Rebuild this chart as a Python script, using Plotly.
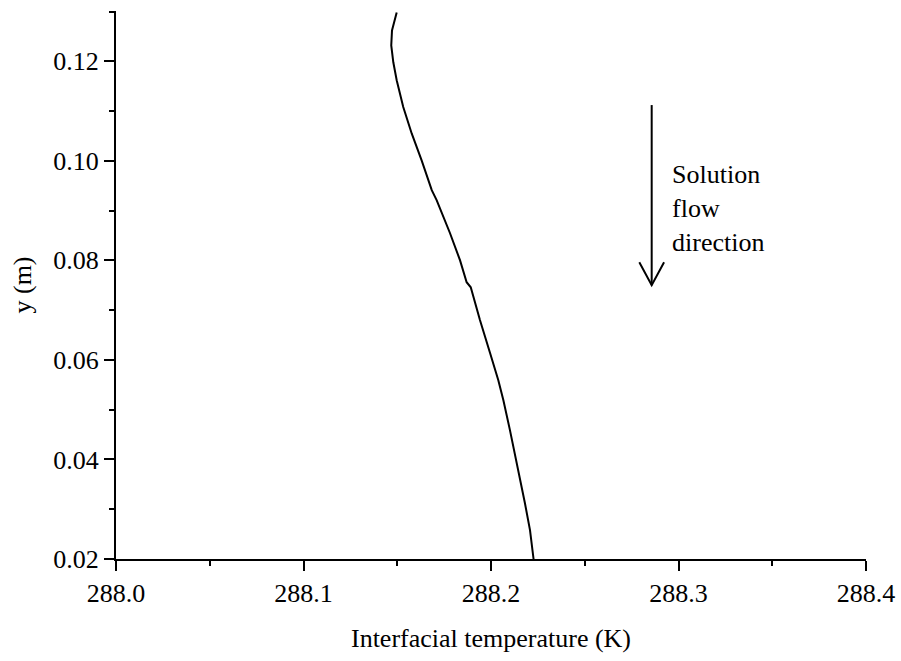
import plotly.graph_objects as go

# Interfacial temperature profile along the falling-film height
height_m = [0.0200, 0.0258, 0.0312, 0.0379, 0.0459, 0.0519, 0.0559, 0.0614, 0.0680,
            0.0746, 0.0756, 0.0800, 0.0855, 0.0921, 0.0941, 0.1001, 0.1055, 0.1108,
            0.1162, 0.1198, 0.1232, 0.1262, 0.1298]
interface_temp_K = [288.2227, 288.2208, 288.2181, 288.2146, 288.2101, 288.2066, 288.2039,
                    288.1995, 288.1941, 288.1892, 288.1870, 288.1835, 288.1781, 288.1710,
                    288.1684, 288.1630, 288.1577, 288.1532, 288.1497, 288.1479, 288.1468,
                    288.1472, 288.1497]

# Flow-direction arrow (data coordinates)
arrow_x = 288.2857
arrow_y_start = 0.1112
arrow_y_tip = 0.0750
head_dx = 0.0066
head_dy = 0.0046
note_lines = ["Solution", "flow", "direction"]

FONT = "Liberation Serif"

fig = go.Figure()
fig.add_trace(go.Scatter(
    x=interface_temp_K, y=height_m, mode="lines",
    line=dict(color="black", width=2), showlegend=False, hoverinfo="skip"))

# shaft and open V head of the arrow
fig.add_shape(type="line", xref="x", yref="y",
              x0=arrow_x, x1=arrow_x, y0=arrow_y_start, y1=arrow_y_tip,
              line=dict(color="black", width=2))
fig.add_shape(type="path", xref="x", yref="y",
              path=(f"M {arrow_x - head_dx},{arrow_y_tip + head_dy} "
                    f"L {arrow_x},{arrow_y_tip} "
                    f"L {arrow_x + head_dx},{arrow_y_tip + head_dy}"),
              line=dict(color="black", width=2))

fig.add_annotation(
    x=arrow_x + 0.0100, y=0.1005, xref="x", yref="y",
    text="<br>".join(note_lines), showarrow=False, align="left",
    xanchor="left", yanchor="top",
    font=dict(family=FONT, size=26, color="black"))

axis_common = dict(
    showline=True, linecolor="black", linewidth=2, mirror=False,
    ticks="outside", ticklen=10, tickwidth=2, tickcolor="black",
    showgrid=False, zeroline=False, automargin=False,
    tickfont=dict(family=FONT, size=26, color="black"),
)

fig.update_xaxes(
    range=[288.0, 288.4], dtick=0.1, tick0=288.0, tickformat=".1f",
    minor=dict(dtick=0.05, ticklen=5, tickwidth=2, tickcolor="black", ticks="outside"),
    title=dict(text="Interfacial temperature (K)",
               font=dict(family=FONT, size=26, color="black"), standoff=22),
    **axis_common)
fig.update_yaxes(
    range=[0.02, 0.1301], dtick=0.02, tick0=0.02, tickformat=".2f",
    minor=dict(dtick=0.01, ticklen=5, tickwidth=2, tickcolor="black", ticks="outside"),
    title=dict(text="y (m)", font=dict(family=FONT, size=26, color="black"), standoff=14),
    **axis_common)

fig.update_layout(
    width=901, height=661,
    margin=dict(l=116, r=35, t=11, b=102),
    plot_bgcolor="white", paper_bgcolor="white",
    font=dict(family=FONT, color="black"),
)

fig.write_html("out.html")
